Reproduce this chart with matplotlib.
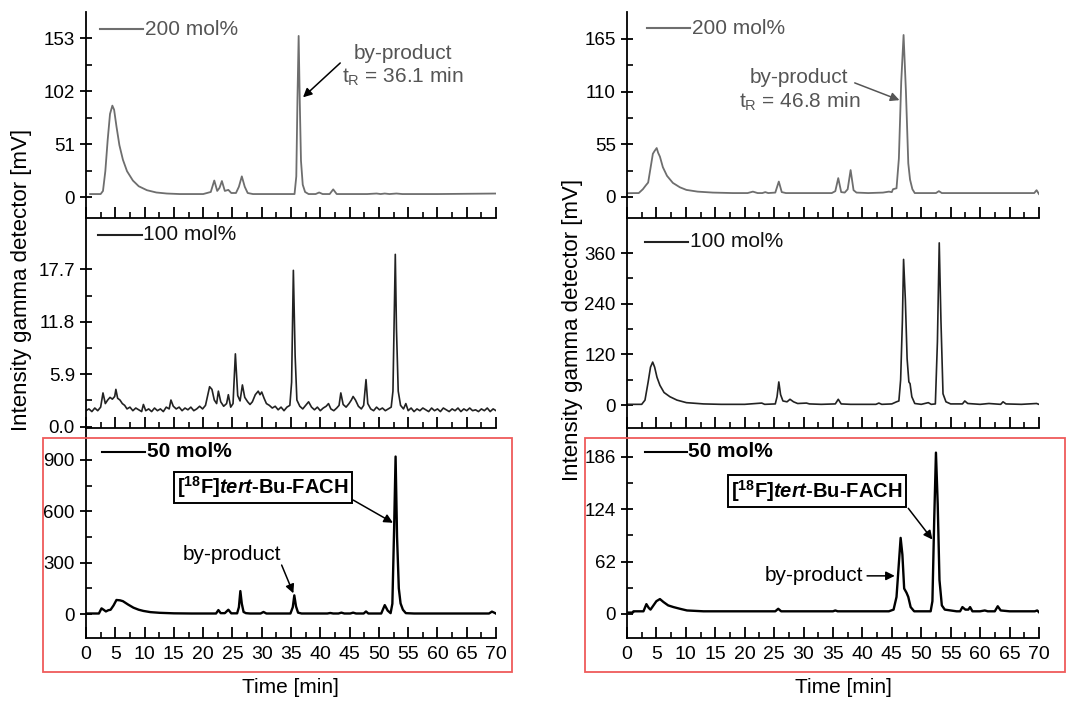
import matplotlib
matplotlib.use('Agg')
import matplotlib.pyplot as plt
from matplotlib.patches import Rectangle
from matplotlib.ticker import MultipleLocator, FixedLocator

plt.rcParams['font.family'] = ['Liberation Sans', 'DejaVu Sans']
plt.rcParams['mathtext.fontset'] = 'custom'
plt.rcParams['mathtext.rm'] = 'Liberation Sans'
plt.rcParams['mathtext.it'] = 'Liberation Sans:italic'
plt.rcParams['mathtext.bf'] = 'Liberation Sans:bold'
plt.rcParams['mathtext.bfit'] = 'Liberation Sans:bold:italic'

#
# chromatogram traces: (time [min], signal [mV])
#
left_200 = [(0.7, 3), (2.5, 3), (2.9, 6), (3.3, 25), (3.7, 55), (4.1, 80), (4.5, 88),
            (4.8, 84), (5.2, 68), (5.7, 50), (6.3, 36), (7.0, 25), (8.0, 16), (9.0, 10.5),
            (10.4, 6.7), (12, 4.5), (13.8, 3.5), (16, 3), (20, 3), (21.3, 5), (21.9, 16),
            (22.4, 6), (22.8, 9), (23.2, 15.5), (23.7, 6), (24.3, 7), (24.8, 4), (25.6, 4),
            (26.1, 10), (26.6, 20), (27.1, 10), (27.6, 4), (28.5, 3), (34, 3), (35.6, 3),
            (35.9, 20), (36.1, 95), (36.3, 155), (36.5, 90), (36.7, 35), (37.0, 12),
            (37.4, 5), (38, 3), (39.2, 3), (39.8, 4.5), (40.4, 3), (41.6, 3), (42.2, 7.5),
            (42.8, 3), (48, 3), (49.6, 3.5), (50.3, 3), (51, 3.5), (51.8, 3), (53, 3.5),
            (54, 3), (60, 3), (70, 3.5)]

right_200 = [(0.2, 3.9), (2.0, 4), (2.7, 8), (3.2, 12), (3.6, 15), (4.0, 30), (4.4, 45),
             (4.7, 48), (5.05, 51), (5.3, 46), (5.6, 42), (6.1, 31), (6.8, 22), (7.8, 14.6),
             (9.0, 10), (10.1, 7.3), (12, 5.5), (14.6, 4.5), (18, 4), (20.5, 4), (21.4, 5.5),
             (22.2, 4), (23.0, 4), (23.5, 5), (24.0, 4), (25.2, 4.5), (25.8, 16), (26.3, 5),
             (27, 4), (34.8, 4), (35.4, 6), (35.9, 19.6), (36.4, 5), (37.0, 4.5), (37.5, 8),
             (38.0, 28), (38.5, 7), (39, 4.5), (41, 4), (43.5, 4.5), (44.5, 5.5), (45, 5),
             (45.2, 8), (45.8, 9), (46.2, 40), (46.6, 120), (47.0, 169), (47.4, 110),
             (47.8, 35), (48.1, 18), (48.5, 8), (48.9, 4), (52.5, 4), (53.0, 6), (53.5, 4),
             (68, 4), (69.2, 4), (69.6, 7), (70, 3)]

left_100 = [(0.0, 1.8), (0.5, 2.0), (1.0, 1.7), (1.5, 2.1), (2.0, 1.8), (2.5, 2.2), (2.9, 3.8),
            (3.3, 2.6), (3.7, 3.0), (4.1, 3.3), (4.5, 3.1), (4.9, 3.4), (5.1, 4.2), (5.4, 3.2),
            (5.8, 3.0), (6.2, 2.6), (6.6, 2.4), (7.0, 2.0), (7.5, 2.2), (8.0, 1.8), (8.5, 2.1),
            (9.0, 1.9), (9.5, 1.7), (9.8, 2.5), (10.2, 1.8), (10.7, 2.0), (11.2, 1.7),
            (11.7, 2.1), (12.2, 1.8), (12.7, 2.0), (13.2, 1.7), (13.7, 2.2), (14.2, 2.0),
            (14.5, 3.0), (14.9, 2.3), (15.4, 2.0), (15.9, 2.2), (16.4, 1.8), (16.9, 2.1),
            (17.4, 1.9), (17.9, 2.2), (18.4, 1.8), (18.9, 2.0), (19.4, 2.3), (19.9, 2.0),
            (20.4, 2.4), (20.8, 3.6), (21.1, 4.5), (21.5, 4.2), (21.9, 3.0), (22.3, 2.6),
            (22.6, 4.0), (23.0, 2.8), (23.5, 2.3), (24.0, 2.6), (24.3, 3.6), (24.7, 2.2),
            (25.1, 2.6), (25.5, 8.2), (25.9, 3.5), (26.3, 2.9), (26.7, 4.7), (27.1, 3.3),
            (27.6, 2.8), (28.0, 2.5), (28.4, 2.8), (28.9, 3.6), (29.4, 4.0), (29.7, 3.6),
            (30.0, 3.9), (30.4, 3.2), (30.8, 2.6), (31.3, 2.4), (31.8, 2.1), (32.3, 2.3),
            (32.8, 1.9), (33.3, 2.2), (33.8, 1.8), (34.3, 2.2), (34.8, 2.4), (35.1, 5.0),
            (35.4, 17.6), (35.7, 8.0), (36.0, 3.0), (36.5, 2.3), (37.0, 2.0), (37.5, 2.4),
            (38.0, 2.8), (38.5, 2.2), (39.0, 1.9), (39.5, 2.2), (40.0, 1.8), (40.5, 2.1),
            (41.0, 2.3), (41.4, 2.6), (41.8, 2.0), (42.3, 1.8), (42.8, 2.1), (43.2, 2.4),
            (43.5, 3.8), (43.9, 2.5), (44.4, 2.2), (44.9, 2.6), (45.3, 3.0), (45.6, 3.4),
            (46.0, 3.0), (46.5, 2.3), (47.0, 2.0), (47.4, 2.4), (47.8, 5.3), (48.1, 2.6),
            (48.6, 2.0), (49.1, 1.8), (49.6, 2.2), (50.1, 1.9), (50.6, 2.1), (51.1, 1.8),
            (51.6, 2.0), (52.1, 2.2), (52.4, 4.0), (52.6, 12), (52.8, 19.4), (53.0, 11),
            (53.3, 4.0), (53.7, 2.4), (54.2, 2.0), (54.6, 2.6), (55.0, 1.8), (55.5, 2.1),
            (56.0, 1.7), (56.5, 2.0), (57.0, 1.8), (57.5, 2.1), (58.0, 1.9), (58.5, 1.7),
            (59.0, 2.1), (59.5, 1.8), (60.0, 2.0), (60.5, 1.7), (61.0, 2.1), (61.5, 1.9),
            (62.0, 1.7), (62.5, 2.0), (63.0, 1.8), (63.5, 2.1), (64.0, 1.7), (64.5, 2.0),
            (65.0, 1.8), (65.5, 2.1), (66.0, 1.8), (66.5, 1.9), (67.0, 1.7), (67.5, 2.0),
            (68.0, 1.8), (68.5, 2.1), (69.0, 1.7), (69.5, 2.0), (70.0, 1.8)]

right_100 = [(0, 2), (2.5, 2), (3.06, 12), (3.6, 55), (4.0, 90), (4.37, 102), (4.7, 90),
             (5.1, 66), (5.6, 47), (6.3, 30), (7.3, 20), (8.5, 12), (10.1, 6), (13, 3),
             (16, 2), (20, 2), (22.9, 5), (23.4, 2), (25.2, 3), (25.5, 20), (25.8, 55),
             (26.1, 25), (26.5, 10), (27.2, 8), (27.7, 14), (28.3, 8), (29, 4), (30.5, 5),
             (31, 3), (33, 2), (35.4, 3), (35.9, 14), (36.4, 3), (38, 2), (42.3, 2),
             (42.8, 5), (43.3, 2), (45, 3), (45.8, 8), (46.2, 10), (46.5, 60), (46.8, 200),
             (47.0, 345), (47.3, 250), (47.6, 110), (47.9, 55), (48.1, 51), (48.4, 20),
             (48.9, 4), (50, 2), (51.2, 6), (51.7, 2), (52.4, 3), (52.75, 150), (53.06, 384),
             (53.35, 200), (53.7, 27), (54.2, 8), (55, 3), (57, 3), (57.4, 10), (57.9, 4),
             (60, 2), (61.5, 4), (63.5, 2), (63.9, 8), (64.4, 3), (67, 2), (69.6, 4), (70, 2)]

left_50 = [(0, 3), (2.2, 3), (2.65, 33), (3.0, 25), (3.4, 15), (3.8, 22), (4.2, 25),
           (4.7, 50), (5.2, 82), (5.8, 80), (6.3, 75), (7.2, 55), (8.1, 37), (9.0, 25),
           (9.8, 18), (11, 11), (12.6, 7), (15, 4), (18, 3), (22.2, 3), (22.6, 23), (23.0, 5),
           (23.7, 5), (24.3, 25), (24.8, 4), (25.8, 4), (26.1, 40), (26.35, 134), (26.6, 60),
           (26.9, 12), (27.3, 5), (28, 3), (29.8, 3), (30.3, 12), (30.8, 3), (34.9, 3),
           (35.3, 40), (35.56, 109), (35.85, 45), (36.2, 8), (36.8, 3), (41.2, 3), (41.7, 6),
           (42.2, 3), (43.1, 3), (43.6, 8), (44.1, 3), (45.1, 3), (45.6, 8), (46.1, 3),
           (47.4, 3), (47.8, 15), (48.2, 3), (50.4, 3), (51.0, 52), (51.5, 20), (52.0, 5),
           (52.3, 60), (52.6, 500), (52.85, 920), (53.1, 450), (53.4, 150), (53.7, 62),
           (54.1, 25), (54.6, 5), (56, 3), (68.8, 3), (69.3, 14), (69.8, 6), (70, 2)]

right_50 = [(0, 1.5), (1.0, 1.5), (1.1, 3), (2.8, 3), (3.3, 11.5), (3.7, 7), (4.0, 5),
            (4.5, 10), (5.0, 15), (5.6, 17.5), (6.2, 14), (7.0, 10), (7.9, 8), (9, 6),
            (10.2, 4), (13, 3), (25.2, 3), (25.7, 6), (26.2, 3), (35, 3), (35.4, 4),
            (35.8, 3), (44.5, 3), (45.3, 5), (45.8, 20), (46.2, 60), (46.5, 90), (46.8, 70),
            (47.1, 30), (47.5, 25), (47.8, 20), (48.2, 8), (48.8, 3), (51.6, 3), (51.9, 15),
            (52.2, 110), (52.5, 191), (52.8, 130), (53.1, 40), (53.5, 10), (54, 5), (56, 3),
            (56.6, 3), (57.0, 8), (57.5, 5), (58.0, 5), (58.3, 8), (58.7, 3), (60, 3),
            (60.8, 4), (61.3, 3), (62.5, 3), (63.0, 9), (63.5, 4), (65, 3), (69.3, 3),
            (69.7, 4), (70, 2)]

# tick values for each panel
yticks_left = [[0, 51, 102, 153], [0, 5.9, 11.8, 17.7], [0, 300, 600, 900]]
ylabels_left = [['0', '51', '102', '153'], ['0.0', '5.9', '11.8', '17.7'], ['0', '300', '600', '900']]
yticks_right = [[0, 55, 110, 165], [0, 120, 240, 360], [0, 62, 124, 186]]
ylabels_right = [['0', '55', '110', '165'], ['0', '120', '240', '360'], ['0', '62', '124', '186']]
ylim_left = [(-20, 178), (-0.15, 23.5), (-140, 1081)]
ylim_right = [(-22, 193), (-54, 443), (-28.6, 219)]
series_names = ['200 mol%', '100 mol%', '50 mol%']

line_colors = ['#6e6e6e', '#222222', '#000000']
line_widths = [1.3, 1.2, 1.7]
label_colors = ['#555555', '#111111', '#000000']
label_weights = ['normal', 'normal', 'bold']

fig = plt.figure(figsize=(10.67, 7.02), dpi=100)

row_bottoms = [0.6895, 0.3903, 0.0912]
row_heights = [0.2934, 0.2992, 0.2977]
col_lefts = [0.0806, 0.5876]
col_widths = [0.3843, 0.3861]

traces = [[left_200, left_100, left_50], [right_200, right_100, right_50]]
yticks_all = [yticks_left, yticks_right]
ylabels_all = [ylabels_left, ylabels_right]
ylims_all = [ylim_left, ylim_right]
leg_x = [[(0.034, 0.139), (0.030, 0.136), (0.038, 0.144)],
         [(0.048, 0.153), (0.044, 0.149), (0.044, 0.145)]]
leg_y = [[0.917, 0.919, 0.891], [0.92, 0.887, 0.891]]

axes = {}
for c in range(2):
    for r in range(3):
        ax = fig.add_axes([col_lefts[c], row_bottoms[r], col_widths[c], row_heights[r]])
        axes[(c, r)] = ax
        t = [p[0] for p in traces[c][r]]
        v = [p[1] for p in traces[c][r]]
        ax.plot(t, v, color=line_colors[r], lw=line_widths[r], solid_joinstyle='round')
        ax.set_xlim(0, 70)
        ax.set_ylim(*ylims_all[c][r])
        ax.spines['top'].set_visible(False)
        ax.spines['right'].set_visible(False)
        for s in ('left', 'bottom'):
            ax.spines[s].set_linewidth(1.3)
        ax.xaxis.set_major_locator(MultipleLocator(5))
        ax.xaxis.set_minor_locator(MultipleLocator(2.5))
        tk = yticks_all[c][r]
        ax.yaxis.set_major_locator(FixedLocator(tk))
        ax.set_yticklabels(ylabels_all[c][r])
        step = tk[1] - tk[0]
        ax.yaxis.set_minor_locator(FixedLocator([tk[0] + step * (k + 0.5) for k in range(3)]))
        ax.tick_params(axis='x', which='major', direction='in', length=8, width=1.3,
                       labelsize=14, pad=6)
        ax.tick_params(axis='x', which='minor', direction='in', length=4, width=1.2)
        ax.tick_params(axis='y', which='major', direction='inout', length=8, width=1.3,
                       labelsize=13.5, pad=4)
        ax.tick_params(axis='y', which='minor', direction='in', length=4, width=1.2)
        if r < 2:
            ax.tick_params(axis='x', labelbottom=False)
        ax.patch.set_alpha(0)
        # legend sample line and label
        x0, x1 = leg_x[c][r]
        ax.plot([x0, x1], [leg_y[c][r]] * 2, color=line_colors[r], lw=1.5,
                transform=ax.transAxes, clip_on=False)
        ax.text(x1 + 0.004, leg_y[c][r], series_names[r], transform=ax.transAxes,
                fontsize=15, color=label_colors[r], fontweight=label_weights[r],
                va='center', ha='left')

arrow = dict(arrowstyle='-|>', color='black', lw=1.1, mutation_scale=13,
             shrinkA=0, shrinkB=0)
arrow_gray = dict(arrow, color='#555555')

# top left
ax = axes[(0, 0)]
ax.text(54.1, 126, 'by-product\n$\\mathregular{t_R}$ = 36.1 min', ha='center', va='center',
        fontsize=15, color='#555555', linespacing=1.2)
ax.annotate('', xy=(37.05, 96), xytext=(43.4, 129), arrowprops=arrow)

# top right
ax = axes[(1, 0)]
ax.text(29.3, 111, 'by-product\n$\\mathregular{t_R}$ = 46.8 min', ha='center', va='center',
        fontsize=15, color='#555555', linespacing=1.2)
ax.annotate('', xy=(46.3, 101), xytext=(38.7, 119), arrowprops=arrow_gray)

box = dict(boxstyle='square,pad=0.15', fc='white', ec='black', lw=1.4)
product = '[$\\mathbf{^{18}}$F]$\\mathbfit{tert}$-Bu-FACH'

# bottom left
ax = axes[(0, 2)]
ax.text(30.2, 739, product, ha='center', va='center', fontsize=14.5, fontweight='bold',
        bbox=box)
ax.annotate('', xy=(52.4, 533), xytext=(45.6, 666), arrowprops=arrow)
ax.text(24.9, 345, 'by-product', ha='center', va='center', fontsize=15)
ax.annotate('', xy=(35.4, 121), xytext=(33.4, 286), arrowprops=arrow)

# bottom right
ax = axes[(1, 2)]
ax.text(32.3, 146, product, ha='center', va='center', fontsize=14.5, fontweight='bold',
        bbox=box)
ax.annotate('', xy=(51.9, 88), xytext=(47.8, 125), arrowprops=arrow)
ax.text(31.8, 45, 'by-product', ha='center', va='center', fontsize=15)
ax.annotate('', xy=(45.5, 45), xytext=(40.8, 45), arrowprops=arrow)

# axis titles
fig.text(0.0206, 0.601, 'Intensity gamma detector [mV]', rotation=90, ha='center',
         va='center', fontsize=16)
fig.text(0.537, 0.53, 'Intensity gamma detector [mV]', rotation=90, ha='center',
         va='center', fontsize=16)
fig.text(290 / 1067, 0.02, 'Time [min]', ha='center', va='center', fontsize=15)
fig.text(843 / 1067, 0.02, 'Time [min]', ha='center', va='center', fontsize=15)

# red frames round the 50 mol% panels
red = '#ef5a5a'
fig.patches.append(Rectangle((0.0403, 0.0427), 0.4395, 0.3333, transform=fig.transFigure,
                             fill=False, ec=red, lw=1.3))
fig.patches.append(Rectangle((0.5483, 0.0427), 0.4500, 0.3333, transform=fig.transFigure,
                             fill=False, ec=red, lw=1.3))

fig.savefig('out.png', dpi=100)
